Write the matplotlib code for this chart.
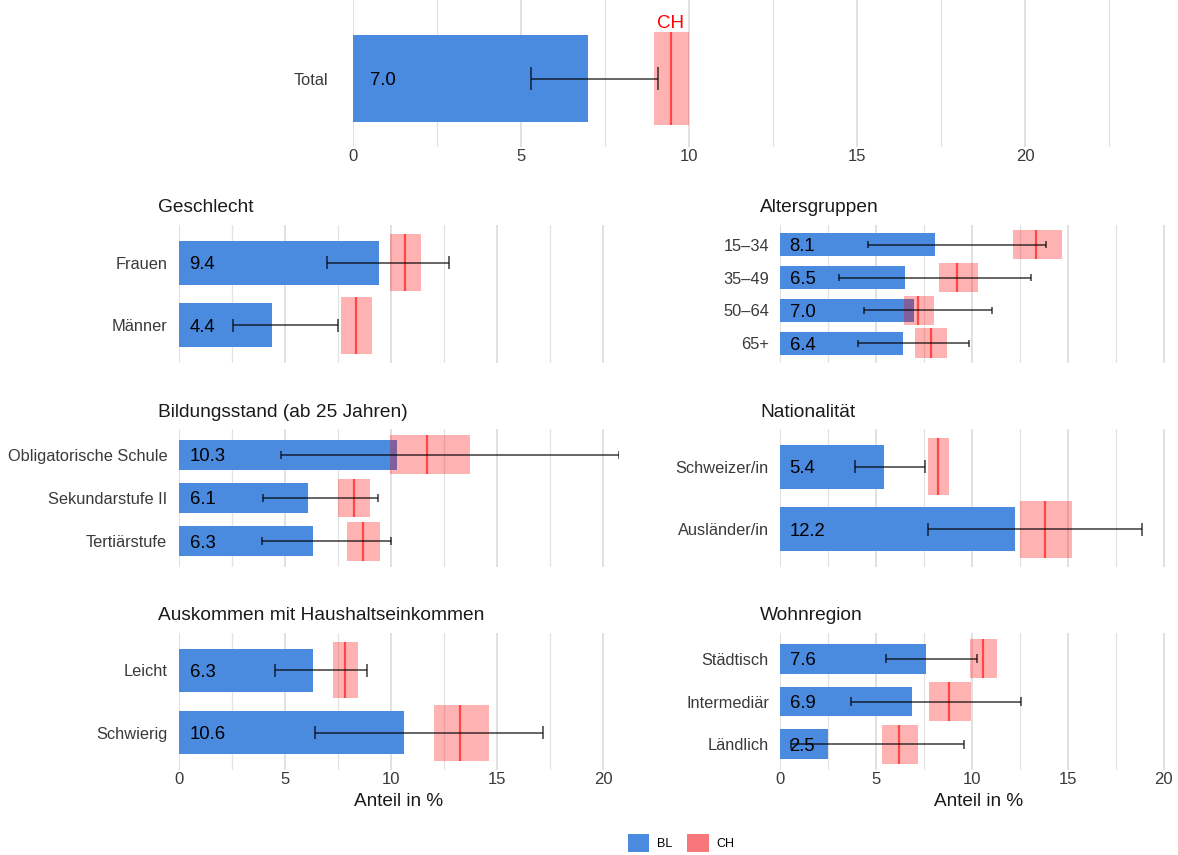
import numpy as np
import matplotlib
matplotlib.use("Agg")
import matplotlib.pyplot as plt
from matplotlib.patches import Patch

plt.rcParams['font.family'] = ['Liberation Sans', 'DejaVu Sans']

# Daten: BL-Wert mit Konfidenzintervall, CH-Wert mit Konfidenzintervall
total_cat = ["Total"]
total_bl = [7.0]
total_bl_lo = [5.30]
total_bl_hi = [9.08]
total_ch = [9.46]
total_ch_lo = [8.96]
total_ch_hi = [9.99]

geschlecht_cat = ["Frauen", "Männer"]
geschlecht_bl = [9.44, 4.4]
geschlecht_bl_lo = [6.97, 2.53]
geschlecht_bl_hi = [12.72, 7.48]
geschlecht_ch = [10.68, 8.33]
geschlecht_ch_lo = [9.95, 7.64]
geschlecht_ch_hi = [11.4, 9.1]

alter_cat = ["15–34", "35–49", "50–64", "65+"]
alter_bl = [8.1, 6.5, 7.0, 6.4]
alter_bl_lo = [4.59, 3.07, 4.38, 4.07]
alter_bl_hi = [13.87, 13.09, 11.06, 9.88]
alter_ch = [13.35, 9.25, 7.19, 7.85]
alter_ch_lo = [12.15, 8.27, 6.44, 7.02]
alter_ch_hi = [14.71, 10.35, 8.05, 8.73]

bildung_cat = ["Obligatorische Schule", "Sekundarstufe II", "Tertiärstufe"]
bildung_bl = [10.3, 6.1, 6.3]
bildung_bl_lo = [4.81, 3.95, 3.9]
bildung_bl_hi = [20.75, 9.37, 10.0]
bildung_ch = [11.68, 8.24, 8.68]
bildung_ch_lo = [9.95, 7.5, 7.92]
bildung_ch_hi = [13.73, 9.0, 9.47]

nation_cat = ["Schweizer/in", "Ausländer/in"]
nation_bl = [5.4, 12.24]
nation_bl_lo = [3.89, 7.74]
nation_bl_hi = [7.57, 18.87]
nation_ch = [8.24, 13.81]
nation_ch_lo = [7.7, 12.5]
nation_ch_hi = [8.8, 15.2]

auskommen_cat = ["Leicht", "Schwierig"]
auskommen_bl = [6.3, 10.6]
auskommen_bl_lo = [4.53, 6.4]
auskommen_bl_hi = [8.88, 17.16]
auskommen_ch = [7.83, 13.27]
auskommen_ch_lo = [7.25, 12.03]
auskommen_ch_hi = [8.43, 14.62]

wohn_cat = ["Städtisch", "Intermediär", "Ländlich"]
wohn_bl = [7.6, 6.9, 2.5]
wohn_bl_lo = [5.55, 3.72, 0.59]
wohn_bl_hi = [10.28, 12.56, 9.57]
wohn_ch = [10.57, 8.8, 6.21]
wohn_ch_lo = [9.9, 7.76, 5.3]
wohn_ch_hi = [11.3, 9.95, 7.22]

xticks = [0, 5, 10, 15, 20]
xminor = [2.5, 7.5, 12.5, 17.5, 22.5]

BLAU = "#4A8ADF"
W, H = 1178, 855
XMAX = 20.75


def rect(x0, x1, y0, y1):
    # Pixel -> Figurkoordinaten
    return [x0 / W, 1 - y1 / H, (x1 - x0) / W, (y1 - y0) / H]


def panel(ax, cat, bl, lo, hi, ch, ch_lo, ch_hi, xlim, ylim, box_h=0.9,
          bar_h=0.7, cap=0.1, pad=8.5, xlabels=False):
    y = np.arange(len(cat))
    ax.barh(y, bl, height=bar_h, color=BLAU, zorder=2)
    ax.barh(y, np.array(ch_hi) - np.array(ch_lo), left=ch_lo, height=box_h,
            color="red", alpha=0.3, linewidth=0, zorder=3)
    ax.vlines(ch, y - box_h / 2, y + box_h / 2, color="red", alpha=0.6,
              lw=1.6, zorder=3.5)
    ax.hlines(y, lo, hi, color="black", alpha=0.65, lw=1.3, zorder=4)
    ax.vlines(lo, y - cap, y + cap, color="black", alpha=0.65, lw=1.3, zorder=4)
    ax.vlines(hi, y - cap, y + cap, color="black", alpha=0.65, lw=1.3, zorder=4)
    for yi, v in zip(y, bl):
        ax.text(0.5, yi, f"{v:.1f}", ha="left", va="center_baseline",
                fontsize=13.3, color="black", zorder=5)
    ax.set_yticks(y, cat)
    ax.set_xlim(*xlim)
    ax.set_ylim(*ylim)
    ax.set_xticks(xticks)
    ax.set_xticks([m for m in xminor if m < xlim[1]], minor=True)
    ax.grid(True, which="major", axis="x", color="#D9D9D9", lw=1.1, zorder=0)
    ax.grid(True, which="minor", axis="x", color="#E3E3E3", lw=0.9, zorder=0)
    ax.set_axisbelow(True)
    for s in ax.spines.values():
        s.set_visible(False)
    ax.tick_params(axis="y", which="both", length=0, pad=pad,
                   labelsize=11.8, labelcolor="#3A3A3A")
    ax.tick_params(axis="x", which="both", length=0, pad=1.5,
                   labelsize=12, labelcolor="#3A3A3A")
    if not xlabels:
        ax.set_xticklabels([])


fig = plt.figure(figsize=(W / 100, H / 100), dpi=100)

# Total oben
ax0 = fig.add_axes(rect(353, 353 + 22.7 * 33.6, 0, 147))
panel(ax0, total_cat, total_bl, total_bl_lo, total_bl_hi, total_ch,
      total_ch_lo, total_ch_hi, (0, 22.7), (0.551, -0.632), box_h=0.75,
      cap=0.09, pad=18, xlabels=True)
ax0.text(total_ch[0], -0.41, "CH", color="red", ha="center", va="baseline",
         fontsize=13.5)

links = (179, 619)
rechts = (780, 1177)
zeilen = [(225, 363), (429, 567), (633, 770)]

panels = [
    ("Geschlecht", links, zeilen[0], geschlecht_cat, geschlecht_bl,
     geschlecht_bl_lo, geschlecht_bl_hi, geschlecht_ch, geschlecht_ch_lo,
     geschlecht_ch_hi),
    ("Altersgruppen", rechts, zeilen[0], alter_cat, alter_bl, alter_bl_lo,
     alter_bl_hi, alter_ch, alter_ch_lo, alter_ch_hi),
    ("Bildungsstand (ab 25 Jahren)", links, zeilen[1], bildung_cat,
     bildung_bl, bildung_bl_lo, bildung_bl_hi, bildung_ch, bildung_ch_lo,
     bildung_ch_hi),
    ("Nationalität", rechts, zeilen[1], nation_cat, nation_bl, nation_bl_lo,
     nation_bl_hi, nation_ch, nation_ch_lo, nation_ch_hi),
    ("Auskommen mit Haushaltseinkommen", links, zeilen[2], auskommen_cat,
     auskommen_bl, auskommen_bl_lo, auskommen_bl_hi, auskommen_ch,
     auskommen_ch_lo, auskommen_ch_hi),
    ("Wohnregion", rechts, zeilen[2], wohn_cat, wohn_bl, wohn_bl_lo,
     wohn_bl_hi, wohn_ch, wohn_ch_lo, wohn_ch_hi),
]

for titel, spalte, zeile, cat, bl, lo, hi, ch, ch_lo, ch_hi in panels:
    ax = fig.add_axes(rect(spalte[0], spalte[1], zeile[0], zeile[1]))
    n = len(cat)
    unten = zeile is zeilen[2]
    xmax = XMAX if spalte is links else 20.7
    panel(ax, cat, bl, lo, hi, ch, ch_lo, ch_hi, (0, xmax),
          (n - 1 + 0.6, -0.6), pad=8.5 if spalte is links else 8,
          xlabels=unten)
    tx = 158 if spalte is links else 760
    fig.text(tx / W, 1 - (zeile[0] - 17) / H, titel, ha="left", va="center",
             fontsize=13.8, color="#1A1A1A")
    if unten:
        ax.set_xlabel("Anteil in %", fontsize=13.7, color="#1A1A1A",
                      labelpad=4)

handles = [Patch(facecolor=BLAU, edgecolor="none"),
           Patch(facecolor="#F8777A", edgecolor="none")]
fig.legend(handles, ["BL", "CH"], loc="center",
           bbox_to_anchor=(681 / W, 1 - 843 / H), ncol=2, frameon=False,
           fontsize=9, handlelength=1.75, handleheight=1.75,
           columnspacing=1.2, handletextpad=0.6)

fig.savefig("out.png", dpi=100)
